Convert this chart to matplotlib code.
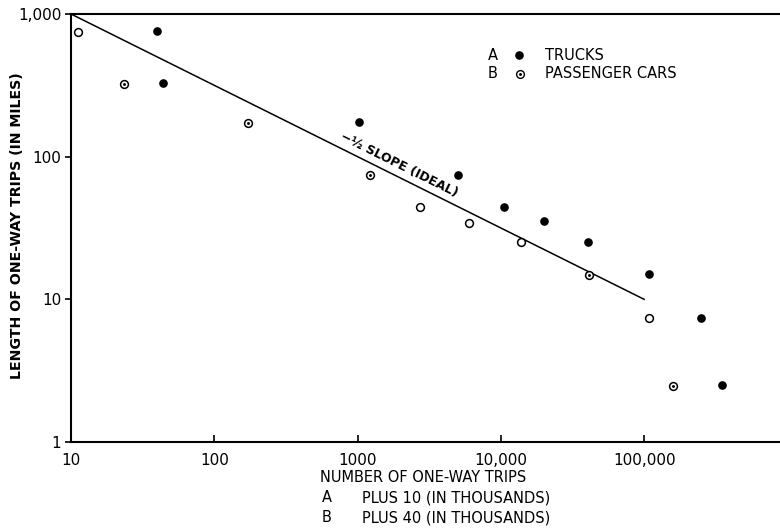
import numpy as np
import matplotlib
matplotlib.use('Agg')
import matplotlib.pyplot as plt

# values (log-log)
truck_trips = [40, 44, 1020, 5000, 10500, 20000, 40700, 108000, 248000, 349000]
truck_miles = [760, 328, 176, 74, 44.4, 35.4, 25.2, 15.0, 7.4, 2.5]

car_trips = [11.2, 23.3, 171, 1220, 2710, 6000, 13900, 41400, 108700, 158000]
car_miles = [745, 321, 173, 74, 44.4, 34.4, 25.1, 14.9, 7.4, 2.47]
car_dotted = [False, True, True, True, False, False, False, True, False, True]

ideal_x = [10, 100000]
ideal_y = [1000, 10]

xticks = [10, 100, 1000, 10000, 100000]
xticklabels = ['10', '100', '1000', '10,000', '100,000']
yticks = [1, 10, 100, 1000]
yticklabels = ['1', '10', '100', '1,000']

plt.rcParams['font.family'] = ['DejaVu Sans']

fig = plt.figure(figsize=(7.8, 5.31), dpi=100)
ax = fig.add_axes([71/780, 89/531, 709/780, 428/531])
ax.set_xscale('log')
ax.set_yscale('log')
ax.set_xlim(10, 10**5.948)
ax.set_ylim(1, 1000)

# ideal line
ax.plot(ideal_x, ideal_y, color='black', lw=1.1)
ax.text(1950, 88, '−½ SLOPE (IDEAL)', rotation=-26.5, ha='center', va='center',
        fontsize=9, fontweight='bold')

# trucks
ax.plot(truck_trips, truck_miles, 'o', color='black', ms=5.2, ls='none')

# passenger cars
ax.plot(car_trips, car_miles, 'o', mfc='white', mec='black', mew=1.1, ms=5.6, ls='none')
dx = [x for x, d in zip(car_trips, car_dotted) if d]
dy = [y for y, d in zip(car_miles, car_dotted) if d]
ax.plot(dx, dy, '.', color='black', ms=2.2, ls='none')

# legend
ax.text(0.595, 0.904, 'A', transform=ax.transAxes, ha='center', va='center', fontsize=10.5)
ax.text(0.595, 0.860, 'B', transform=ax.transAxes, ha='center', va='center', fontsize=10.5)
ax.plot([0.632], [0.904], 'o', color='black', ms=5.2, transform=ax.transAxes)
ax.plot([0.633], [0.860], 'o', mfc='white', mec='black', mew=1.0, ms=5.6, transform=ax.transAxes)
ax.plot([0.633], [0.860], '.', color='black', ms=2.2, transform=ax.transAxes)
ax.text(0.669, 0.904, 'TRUCKS', transform=ax.transAxes, ha='left', va='center', fontsize=10.5)
ax.text(0.669, 0.860, 'PASSENGER CARS', transform=ax.transAxes, ha='left', va='center', fontsize=10.5)

# axes styling
ax.spines['right'].set_visible(False)
for s in ['left', 'bottom', 'top']:
    ax.spines[s].set_linewidth(1.5)
ax.set_xticks(xticks)
ax.set_xticklabels(xticklabels)
ax.set_yticks(yticks)
ax.set_yticklabels(yticklabels)
ax.minorticks_off()
ax.tick_params(axis='x', direction='in', length=5, width=1.2, pad=8, labelsize=11)
ax.tick_params(axis='y', direction='out', length=4, width=1.2, pad=3, labelsize=11)

fig.text(17/780, 1 - 226/531, 'LENGTH OF ONE-WAY TRIPS (IN MILES)', rotation=90,
         ha='center', va='center', fontsize=10.2, fontweight='bold')

fig.text(320/780, 1 - 477/531, 'NUMBER OF ONE-WAY TRIPS', ha='left', va='center', fontsize=10.5)
fig.text(322/780, 1 - 498/531, 'A', ha='left', va='center', fontsize=10.5)
fig.text(362/780, 1 - 498/531, 'PLUS 10 (IN THOUSANDS)', ha='left', va='center', fontsize=10.5)
fig.text(322/780, 1 - 518/531, 'B', ha='left', va='center', fontsize=10.5)
fig.text(362/780, 1 - 518/531, 'PLUS 40 (IN THOUSANDS)', ha='left', va='center', fontsize=10.5)

fig.savefig('out.png', dpi=100)
